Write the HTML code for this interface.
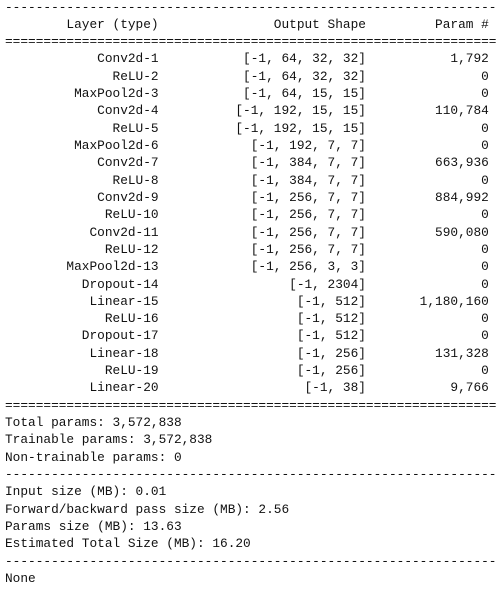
<!DOCTYPE html>
<html><head><meta charset="utf-8"><style>
html,body{margin:0;padding:0;background:#fff;width:502px;height:589px;overflow:hidden}
pre{margin:0;position:absolute;left:5px;top:-1.5px;font-family:"Liberation Mono",monospace;font-size:12.8px;line-height:17.32px;color:#111;white-space:pre}
</style></head><body>
<pre id="out"></pre>
<script>
const layers=["Conv2d-1","ReLU-2","MaxPool2d-3","Conv2d-4","ReLU-5","MaxPool2d-6","Conv2d-7","ReLU-8","Conv2d-9","ReLU-10","Conv2d-11","ReLU-12","MaxPool2d-13","Dropout-14","Linear-15","ReLU-16","Dropout-17","Linear-18","ReLU-19","Linear-20"];
const shapes=["[-1, 64, 32, 32]","[-1, 64, 32, 32]","[-1, 64, 15, 15]","[-1, 192, 15, 15]","[-1, 192, 15, 15]","[-1, 192, 7, 7]","[-1, 384, 7, 7]","[-1, 384, 7, 7]","[-1, 256, 7, 7]","[-1, 256, 7, 7]","[-1, 256, 7, 7]","[-1, 256, 7, 7]","[-1, 256, 3, 3]","[-1, 2304]","[-1, 512]","[-1, 512]","[-1, 512]","[-1, 256]","[-1, 256]","[-1, 38]"];
const params=["1,792","0","0","110,784","0","0","663,936","0","884,992","0","590,080","0","0","0","1,180,160","0","0","131,328","0","9,766"];
const D="-".repeat(64), E="=".repeat(64);
const row=(a,b,c)=>a.padStart(20)+"  "+b.padStart(25)+" "+c.padStart(15);
const lines=[D,row("Layer (type)","Output Shape","Param #"),E];
layers.forEach((l,i)=>lines.push(row(l,shapes[i],params[i])));
lines.push(E,"Total params: 3,572,838","Trainable params: 3,572,838","Non-trainable params: 0",D,
"Input size (MB): 0.01","Forward/backward pass size (MB): 2.56","Params size (MB): 13.63","Estimated Total Size (MB): 16.20",D,"None");
document.getElementById("out").textContent=lines.join("\n");
</script>
</body></html>
